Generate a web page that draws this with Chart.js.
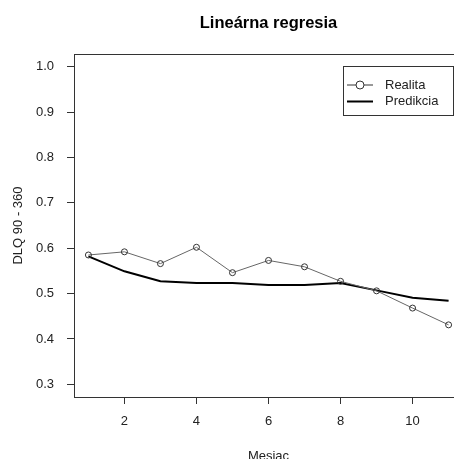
<!DOCTYPE html>
<html>
<head>
<meta charset="utf-8">
<script src="https://cdn.jsdelivr.net/npm/chart.js@4/dist/chart.umd.min.js"></script>
<style>
  html, body { margin: 0; padding: 0; background: #fff; }
  #wrap { width: 454px; height: 459px; overflow: hidden; }
</style>
</head>
<body>
<div id="wrap"><canvas id="chart" width="468" height="459"></canvas></div>
<script>
// data
const months = [1, 2, 3, 4, 5, 6, 7, 8, 9, 10, 11];
const realita = [0.585, 0.592, 0.566, 0.602, 0.546, 0.573, 0.559, 0.527, 0.506, 0.468, 0.431];
const predikcia = [0.582, 0.549, 0.527, 0.523, 0.523, 0.519, 0.519, 0.523, 0.507, 0.491, 0.484];
const xTicks = [2, 4, 6, 8, 10];
const yTicks = [0.3, 0.4, 0.5, 0.6, 0.7, 0.8, 0.9, 1.0];

const FONT = "'Liberation Sans', Arial, sans-serif";
const ink = '#222';

// R-like frame, titles and boxed legend
const rDecor = {
  id: 'rDecor',
  afterDraw(chart) {
    const { ctx, chartArea: a } = chart;
    ctx.save();
    ctx.strokeStyle = '#333';
    ctx.lineWidth = 1;
    ctx.strokeRect(a.left + 0.5, a.top + 0.5, a.right - a.left - 1, a.bottom - a.top);

    ctx.fillStyle = '#000';
    ctx.textAlign = 'center';
    ctx.textBaseline = 'middle';
    ctx.font = 'bold 16.5px ' + FONT;
    ctx.fillText('Lineárna regresia', (a.left + a.right) / 2, 23);

    ctx.fillStyle = ink;
    ctx.font = '13px ' + FONT;
    ctx.fillText('Mesiac', (a.left + a.right) / 2, 456);
    ctx.translate(18, (a.top + a.bottom) / 2);
    ctx.rotate(-Math.PI / 2);
    ctx.fillText('DLQ 90 - 360', 0, 0);
    ctx.restore();

    // legend
    ctx.save();
    const lx = 343, ly = 66, lw = 110, lh = 49;
    ctx.strokeStyle = '#333';
    ctx.lineWidth = 1;
    ctx.strokeRect(lx + 0.5, ly + 0.5, lw, lh);
    const ds = chart.data.datasets;
    const rows = [85, 101.5];
    ds.forEach((d, i) => {
      const y = rows[i];
      ctx.strokeStyle = i === 0 ? '#333' : '#000';
      ctx.lineWidth = d.borderWidth;
      ctx.beginPath();
      ctx.moveTo(347, y);
      ctx.lineTo(373, y);
      ctx.stroke();
      if (d.pointRadius > 0) {
        ctx.fillStyle = '#fff';
        ctx.lineWidth = 1;
        ctx.beginPath();
        ctx.arc(360, y, 4, 0, Math.PI * 2);
        ctx.fill();
        ctx.stroke();
      }
      ctx.fillStyle = ink;
      ctx.font = '13px ' + FONT;
      ctx.textAlign = 'left';
      ctx.textBaseline = 'middle';
      ctx.fillText(d.label, 385, y);
    });
    ctx.restore();
  }
};

new Chart(document.getElementById('chart'), {
  type: 'line',
  data: {
    datasets: [
      {
        label: 'Realita',
        data: months.map((m, i) => ({ x: m, y: realita[i] })),
        borderColor: '#666',
        borderWidth: 1,
        pointRadius: 3,
        pointBorderColor: '#333',
        pointBackgroundColor: 'rgba(0,0,0,0)',
        pointBorderWidth: 1,
        tension: 0
      },
      {
        label: 'Predikcia',
        data: months.map((m, i) => ({ x: m, y: predikcia[i] })),
        borderColor: '#000',
        borderWidth: 2,
        pointRadius: 0,
        tension: 0
      }
    ]
  },
  options: {
    responsive: false,
    animation: false,
    devicePixelRatio: 1,
    layout: { padding: { top: 54, right: 0.5, left: 0, bottom: 0 } },
    plugins: { legend: { display: false }, tooltip: { enabled: false } },
    scales: {
      x: {
        type: 'linear',
        min: 0.6,
        max: 11.4,
        afterBuildTicks: s => { s.ticks = xTicks.map(v => ({ value: v })); },
        afterFit: s => { s.height = 62; },
        grid: { drawOnChartArea: false, drawTicks: true, tickLength: 7, color: '#333' },
        border: { display: false },
        ticks: { color: ink, font: { family: FONT, size: 13 }, padding: 10, maxRotation: 0 }
      },
      y: {
        min: 0.272,
        max: 1.028,
        afterBuildTicks: s => { s.ticks = yTicks.map(v => ({ value: v })); },
        afterFit: s => { s.width = 74; },
        grid: { drawOnChartArea: false, drawTicks: true, tickLength: 7, color: '#333' },
        border: { display: false },
        ticks: { color: ink, font: { family: FONT, size: 13 }, padding: 13,
          callback: v => v.toFixed(1) }
      }
    }
  },
  plugins: [rDecor]
});
</script>
</body>
</html>
